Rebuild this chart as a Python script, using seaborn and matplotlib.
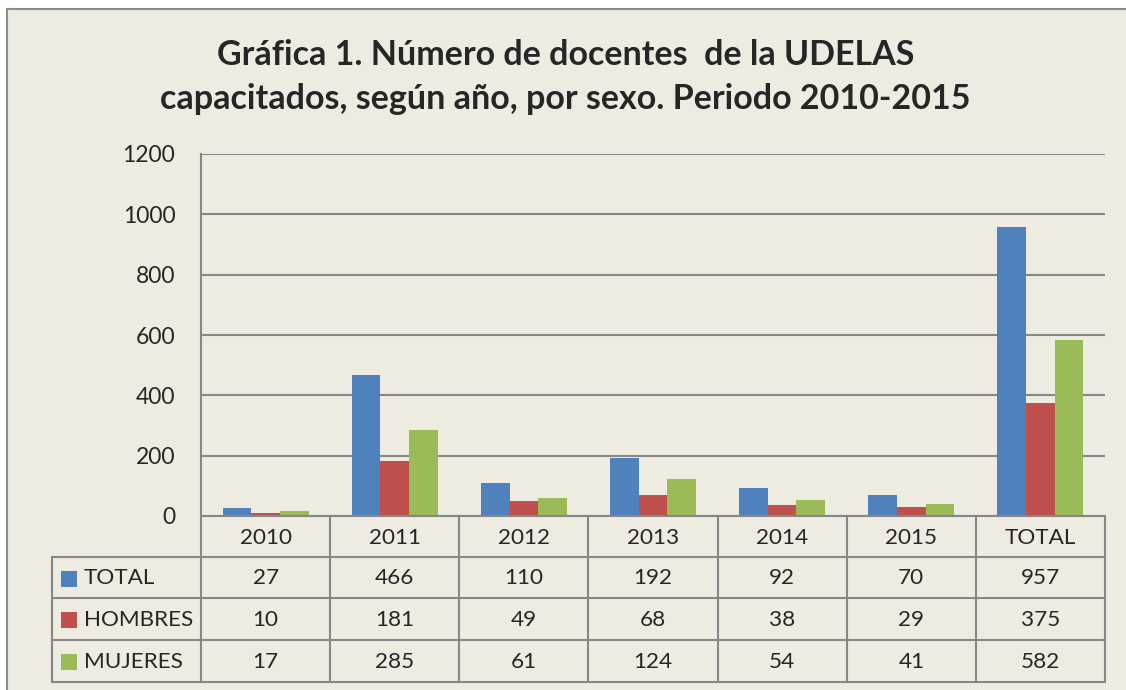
import matplotlib
matplotlib.use("Agg")
import matplotlib.pyplot as plt
import seaborn as sns
import pandas as pd
from matplotlib.lines import Line2D
from matplotlib.patches import Rectangle

categories = ["2010", "2011", "2012", "2013", "2014", "2015", "TOTAL"]
series_names = ["TOTAL", "HOMBRES", "MUJERES"]
total = [27, 466, 110, 192, 92, 70, 957]
hombres = [10, 181, 49, 68, 38, 29, 375]
mujeres = [17, 285, 61, 124, 54, 41, 582]
yticks = [0, 200, 400, 600, 800, 1000, 1200]
colors = ["#4F81BD", "#C0504D", "#9BBB59"]
title = "Gráfica 1. Número de docentes  de la UDELAS\ncapacitados, según año, por sexo. Periodo 2010-2015"

values = [total, hombres, mujeres]
df = pd.DataFrame({
    "cat": categories * 3,
    "serie": sum([[s] * len(categories) for s in series_names], []),
    "valor": total + hombres + mujeres,
})

sns.set_theme(style="white")
FONT = ["Lato", "DejaVu Sans"]
plt.rcParams["font.family"] = FONT

W, H = 1126, 690
BG = "#EEECE1"
GRID = "#878787"
fig = plt.figure(figsize=(W / 100, H / 100), dpi=100)
fig.patch.set_facecolor("white")

def fx(px):
    return px / W

def fy(py):
    return 1 - py / H

# chart area background + frame (top and left edges visible)
fig.add_artist(Rectangle((fx(7), fy(H + 5)), fx(W + 10 - 7), fy(9) - fy(H + 5),
                         transform=fig.transFigure, facecolor=BG, edgecolor="none", zorder=-5))
fig.add_artist(Line2D([fx(7), fx(W + 5)], [fy(9), fy(9)], transform=fig.transFigure, color="#8c8c8c", lw=1.5))
fig.add_artist(Line2D([fx(7), fx(7)], [fy(9), fy(H + 5)], transform=fig.transFigure, color="#8c8c8c", lw=1.5))

L, R, T, B = 201, 1105, 154, 516
ax = fig.add_axes([fx(L), fy(B), fx(R - L), fy(T) - fy(B)])
ax.set_facecolor(BG)

sns.barplot(data=df, x="cat", y="valor", hue="serie", hue_order=series_names,
            order=categories, palette=colors, width=0.667, saturation=1,
            ax=ax, legend=False, edgecolor="none", linewidth=0, zorder=3)

ax.set_ylim(0, 1200)
ax.set_xlim(-0.5, len(categories) - 0.5)
ax.set_yticks(yticks)
ax.set_yticklabels([str(v) for v in yticks], fontsize=16.5, family=FONT)
ax.tick_params(axis="y", length=0, pad=18.5)
ax.set_xticks([])
ax.set_xlabel("")
ax.set_ylabel("")
ax.yaxis.grid(True, color=GRID, lw=1.5, zorder=0)
for s in ["top", "right", "bottom"]:
    ax.spines[s].set_visible(False)
ax.spines["left"].set_color(GRID)
ax.spines["left"].set_linewidth(1.5)

fig.text(0.502, fy(77), title, ha="center", va="center", fontsize=24.5,
         fontweight="bold", family=FONT, linespacing=1.47)

# data table below the axis
ncol = len(categories)
cw = (R - L) / ncol
row_y = [516, 557, 598, 640, 682]
tab_left = 52

def hline(x0, x1, y):
    fig.add_artist(Line2D([fx(x0), fx(x1)], [fy(y), fy(y)], transform=fig.transFigure, color=GRID, lw=1.5))

def vline(x, y0, y1):
    fig.add_artist(Line2D([fx(x), fx(x)], [fy(y0), fy(y1)], transform=fig.transFigure, color=GRID, lw=1.5))

hline(L, R, row_y[0])
for y in row_y[1:]:
    hline(tab_left, R, y)
for i in range(ncol + 1):
    vline(L + i * cw, row_y[0], row_y[-1])
vline(tab_left, row_y[1], row_y[-1])

TFS = 16.2
for i, c in enumerate(categories):
    fig.text(fx(L + (i + 0.5) * cw), fy((row_y[0] + row_y[1]) / 2 + 1), c,
             ha="center", va="center", fontsize=TFS, family=FONT)

for r, (name, vals, col) in enumerate(zip(series_names, values, colors)):
    yc = (row_y[r + 1] + row_y[r + 2]) / 2 + 1
    fig.add_artist(Rectangle((fx(61), fy(yc + 8)), fx(16), 16 / H,
                             transform=fig.transFigure, facecolor=col, edgecolor="none"))
    fig.text(fx(84), fy(yc), name, ha="left", va="center", fontsize=TFS, family=FONT)
    for i, v in enumerate(vals):
        fig.text(fx(L + (i + 0.5) * cw), fy(yc), str(v), ha="center", va="center",
                 fontsize=TFS, family=FONT)

fig.savefig("out.png", dpi=100, facecolor=fig.get_facecolor())
